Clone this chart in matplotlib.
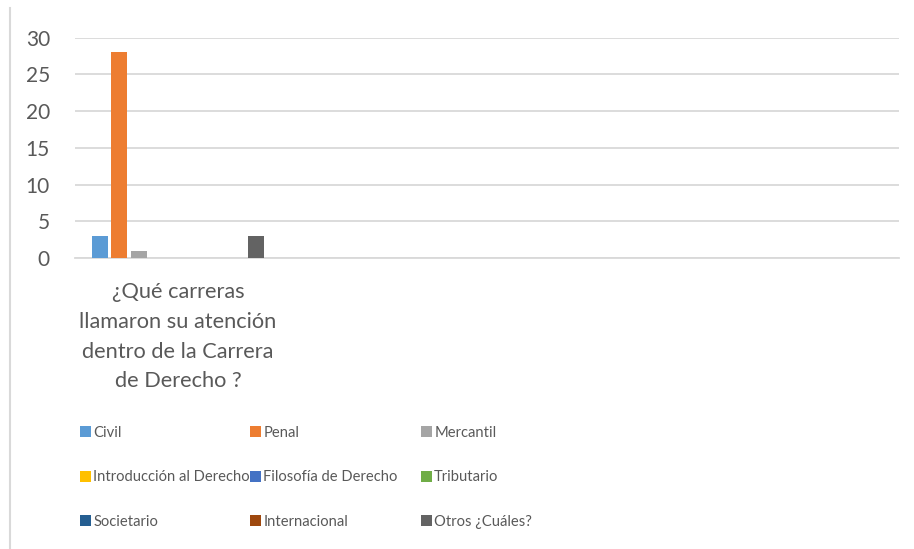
import matplotlib.pyplot as plt
from matplotlib.lines import Line2D

# data
categories = ['¿Qué carreras\nllamaron su atención\ndentro de la Carrera\nde Derecho ?', '', '', '']
series = ['Civil', 'Penal', 'Mercantil', 'Introducción al Derecho', 'Filosofía de Derecho',
          'Tributario', 'Societario', 'Internacional', 'Otros ¿Cuáles?']
values = [[3, None, None, None],
          [28, None, None, None],
          [1, None, None, None],
          [0, None, None, None],
          [0, None, None, None],
          [0, None, None, None],
          [0, None, None, None],
          [0, None, None, None],
          [3, None, None, None]]
colors = ['#5b9bd5', '#ed7d31', '#a5a5a5', '#ffc000', '#4472c4',
          '#70ad47', '#255e91', '#9e480e', '#636363']

txt = '#595959'
plt.rcParams['font.family'] = ['Lato', 'DejaVu Sans']

fig = plt.figure(figsize=(9.14, 5.49), dpi=100)
ax = fig.add_axes([75 / 914, 1 - 258 / 549, 824 / 914, 220.3 / 549])

step = 0.095
width = 0.078
handles = []
for i, (name, vals) in enumerate(zip(series, values)):
    xs = [j + (i - 4) * step for j in range(len(categories))]
    hs = [v if v is not None else 0 for v in vals]
    b = ax.bar(xs, hs, width=width, color=colors[i], label=name, zorder=3)
    handles.append(b)

ax.set_xlim(-0.5, len(categories) - 0.5)
ax.set_ylim(0, 30)
ax.set_yticks(range(0, 31, 5))
ax.yaxis.grid(True, color='#d9d9d9', linewidth=1.3, zorder=0)
ax.set_xticks(range(len(categories)))
ax.set_xticklabels(categories, fontsize=15.7, color=txt, linespacing=1.6, va='top')
ax.tick_params(axis='x', length=0, pad=17.5)
ax.tick_params(axis='y', length=0, pad=18, labelsize=15, labelcolor=txt)
for s in ['top', 'right', 'left']:
    ax.spines[s].set_visible(False)
ax.spines['bottom'].set_color('#d9d9d9')
ax.spines['bottom'].set_linewidth(1.3)

# legend: three columns, row-major order like Excel
col_x = [80, 250, 421]
for c in range(3):
    hs = [handles[r * 3 + c] for r in range(3)]
    fig.legend(hs, [series[r * 3 + c] for r in range(3)], loc='upper left',
               bbox_to_anchor=(col_x[c] / 914, 1 - 426 / 549), frameon=False,
               fontsize=10.6, labelcolor=txt, handlelength=0.75, handleheight=0.75,
               handletextpad=0.15, labelspacing=2.07, borderaxespad=0, borderpad=0)

fig.add_artist(Line2D([10 / 914, 10 / 914], [0, 1 - 8 / 549], color='#d9d9d9', linewidth=1.5))

fig.savefig('out.png', dpi=100)
